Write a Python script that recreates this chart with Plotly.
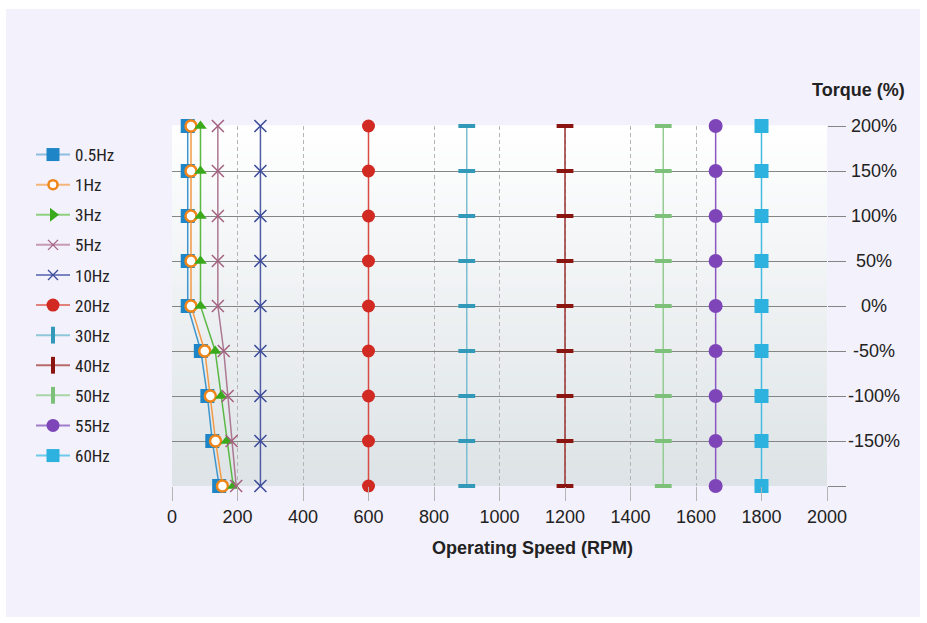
import plotly.graph_objects as go

# ---------------- data ----------------
torque = [200, 150, 100, 50, 0, -50, -100, -150, -200]
torque_tick_vals = [200, 150, 100, 50, 0, -50, -100, -150]
torque_tick_text = ["200%", "150%", "100%", "50%", "0%", "-50%", "-100%", "-150%"]
speed_ticks = [0, 200, 400, 600, 800, 1000, 1200, 1400, 1600, 1800, 2000]

series_names = ["0.5Hz", "1Hz", "3Hz", "5Hz", "10Hz", "20Hz", "30Hz", "40Hz", "50Hz", "55Hz", "60Hz"]
speed_05hz = [48, 48, 48, 48, 48, 88, 108, 123, 144]
speed_1hz = [58, 58, 58, 58, 58, 100, 117, 133, 154]
speed_3hz = [87, 87, 87, 87, 87, 132, 150, 167, 187]
speed_5hz = [140, 140, 140, 140, 140, 158, 170, 182, 196]
speed_10hz = [270, 270, 270, 270, 270, 270, 270, 270, 270]
speed_20hz = [600, 600, 600, 600, 600, 600, 600, 600, 600]
speed_30hz = [900, 900, 900, 900, 900, 900, 900, 900, 900]
speed_40hz = [1200, 1200, 1200, 1200, 1200, 1200, 1200, 1200, 1200]
speed_50hz = [1500, 1500, 1500, 1500, 1500, 1500, 1500, 1500, 1500]
speed_55hz = [1660, 1660, 1660, 1660, 1660, 1660, 1660, 1660, 1660]
speed_60hz = [1800, 1800, 1800, 1800, 1800, 1800, 1800, 1800, 1800]

all_speeds = [speed_05hz, speed_1hz, speed_3hz, speed_5hz, speed_10hz, speed_20hz,
              speed_30hz, speed_40hz, speed_50hz, speed_55hz, speed_60hz]

# ---------------- styles ----------------
colors = ["#1e86c6", "#f08519", "#3aaa1c", "#a3607f", "#3d4b9b", "#d02a22",
          "#3399b8", "#8a1410", "#7cc07a", "#7d45b8", "#2db1de"]
line_colors = ["#3f95cc", "#f29a45", "#5cb845", "#ad7893", "#4f5ca4", "#d84a43",
               "#7bbdd2", "#9a3330", "#95cc93", "#8a58c0", "#46bbe2"]
legend_line_colors = ["#8dbde0", "#f5b67a", "#8fd07f", "#c79bb1", "#7a84c0", "#e3817c",
                      "#8ec7d8", "#b86a68", "#a9d6a7", "#9f7ccc", "#6ccbeb"]

chart_markers = [
    dict(symbol="square", size=14, color=colors[0]),
    dict(symbol="circle", size=11, color="white", line=dict(color=colors[1], width=2.5)),
    dict(symbol="triangle-up", size=11, color=colors[2]),
    dict(symbol="x-thin", size=12, color=colors[3], line=dict(color=colors[3], width=1.5)),
    dict(symbol="x-thin", size=12, color=colors[4], line=dict(color=colors[4], width=1.5)),
    dict(symbol="circle", size=13, color=colors[5]),
    dict(symbol="line-ew", size=12, color=colors[6], line=dict(color=colors[6], width=4)),
    dict(symbol="line-ew", size=12, color=colors[7], line=dict(color=colors[7], width=4)),
    dict(symbol="line-ew", size=12, color=colors[8], line=dict(color=colors[8], width=4)),
    dict(symbol="circle", size=14, color=colors[9]),
    dict(symbol="square", size=14, color=colors[10]),
]
legend_markers = [
    dict(symbol="square", size=13, color=colors[0]),
    dict(symbol="circle", size=9, color="white", line=dict(color=colors[1], width=2.5)),
    dict(symbol="triangle-right", size=12, color=colors[2]),
    dict(symbol="x-thin", size=10, color=colors[3], line=dict(color=colors[3], width=1.3)),
    dict(symbol="x-thin", size=10, color=colors[4], line=dict(color=colors[4], width=1.3)),
    dict(symbol="circle", size=13, color=colors[5]),
    dict(symbol="line-ns", size=12, color=colors[6], line=dict(color=colors[6], width=4)),
    dict(symbol="line-ns", size=12, color=colors[7], line=dict(color=colors[7], width=4)),
    dict(symbol="line-ns", size=12, color=colors[8], line=dict(color=colors[8], width=4)),
    dict(symbol="circle", size=13, color=colors[9]),
    dict(symbol="square", size=13, color=colors[10]),
]

fig = go.Figure()

for i, (name, xs) in enumerate(zip(series_names, all_speeds)):
    fig.add_trace(go.Scatter(
        x=xs, y=torque, mode="lines+markers", name=name,
        line=dict(color=line_colors[i], width=1.5),
        marker=chart_markers[i], showlegend=False, cliponaxis=False,
        hoverinfo="x+y+name",
    ))

# legend-only entries (symbols drawn as in the reference legend)
for i, name in enumerate(series_names):
    fig.add_trace(go.Scatter(
        x=[None], y=[None], mode="lines+markers", name=name,
        line=dict(color=legend_line_colors[i], width=2),
        marker=legend_markers[i], showlegend=True, legendgroup=name,
    ))

# ---------------- background ----------------
L, R, T, B = 172, 100, 126, 137
W, H = 927, 623
pw, ph = W - L - R, H - T - B

def px_x(p):
    return (p - L) / pw

def px_y(p):
    return (H - B - p) / ph

shapes = [dict(type="rect", xref="paper", yref="paper",
               x0=px_x(6), x1=px_x(920), y0=px_y(617), y1=px_y(9),
               fillcolor="#f3f1fb", line=dict(width=0), layer="below")]

top_rgb = (255, 255, 255)
bot_rgb = (221, 227, 230)
n_bands = 60
for k in range(n_bands):
    t = (k + 0.5) / n_bands
    r = round(top_rgb[0] + (bot_rgb[0] - top_rgb[0]) * t)
    g = round(top_rgb[1] + (bot_rgb[1] - top_rgb[1]) * t)
    b = round(top_rgb[2] + (bot_rgb[2] - top_rgb[2]) * t)
    shapes.append(dict(type="rect", xref="x domain", yref="y domain",
                       x0=0, x1=1, y0=1 - (k + 1) / n_bands, y1=1 - k / n_bands + 0.002,
                       fillcolor=f"rgb({r},{g},{b})", line=dict(width=0), layer="below"))

FONT = "Liberation Sans, Arial, sans-serif"
annotations = []
for v, txt in zip(torque_tick_vals, torque_tick_text):
    annotations.append(dict(x=px_x(874), y=v, xref="paper", yref="y", text=txt,
                            showarrow=False, xanchor="center", yanchor="middle",
                            font=dict(family=FONT, size=18, color="#222222")))
annotations.append(dict(x=px_x(858), y=px_y(90), xref="paper", yref="paper",
                        text="<b>Torque (%)</b>", showarrow=False, xanchor="center", yanchor="middle",
                        font=dict(family=FONT, size=18, color="#222222")))
annotations.append(dict(x=px_x(532), y=px_y(548), xref="paper", yref="paper",
                        text="<b>Operating Speed (RPM)</b>", showarrow=False, xanchor="center", yanchor="middle",
                        font=dict(family=FONT, size=18, color="#222222")))

fig.update_layout(
    width=W, height=H,
    margin=dict(l=L, r=R, t=T, b=B, pad=0),
    paper_bgcolor="white",
    plot_bgcolor="rgba(0,0,0,0)",
    shapes=shapes,
    annotations=annotations,
    showlegend=True,
    legend=dict(x=px_x(31), y=px_y(137), xanchor="left", yanchor="top",
                bgcolor="rgba(0,0,0,0)", borderwidth=0,
                font=dict(family="Liberation Sans Narrow, Roboto Condensed, Liberation Sans, sans-serif",
                          size=17, color="#222222"),
                tracegroupgap=5, itemwidth=34, maxheight=600),
    xaxis=dict(range=[0, 2000], tickvals=speed_ticks, ticktext=[str(v) for v in speed_ticks],
               showgrid=True, gridcolor="#b5b5b5", griddash="4px,3px", gridwidth=1,
               zeroline=False, showline=False,
               ticks="outside", ticklen=14, tickcolor="#b5b5b5", tickwidth=1,
               tickfont=dict(family=FONT, size=18, color="#222222"),
               fixedrange=True),
    yaxis=dict(range=[-200, 200], side="right", tickvals=torque, showticklabels=False,
               showgrid=True, gridcolor="#858585", gridwidth=1.2,
               zeroline=False, showline=False,
               ticks="outside", ticklen=18, tickcolor="#858585", tickwidth=1.2,
               fixedrange=True),
    hovermode="closest",
)

fig.write_html("out.html", config={"displayModeBar": False},
               post_script="document.body.style.margin='0';")
